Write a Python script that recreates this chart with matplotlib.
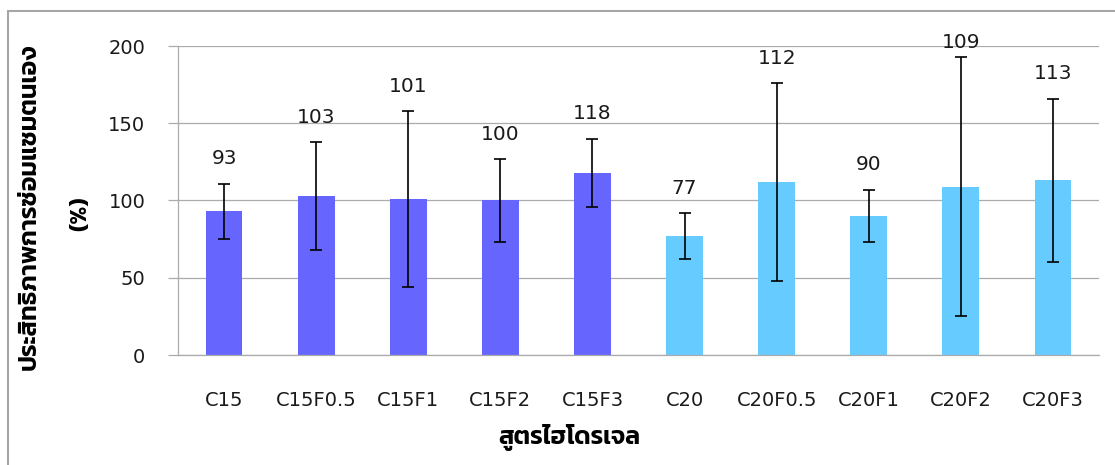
import matplotlib
matplotlib.use('Agg')
import matplotlib.pyplot as plt
from matplotlib.patches import Rectangle

categories = ['C15', 'C15F0.5', 'C15F1', 'C15F2', 'C15F3',
              'C20', 'C20F0.5', 'C20F1', 'C20F2', 'C20F3']
values = [93, 103, 101, 100, 118, 77, 112, 90, 109, 113]
errors = [18, 35, 57, 27, 22, 15, 64, 17, 84, 53]
bar_colors = ['#6666FF'] * 5 + ['#66CCFF'] * 5
yticks = [0, 50, 100, 150, 200]

thai_font = ['Kanit', 'Noto Sans Thai', 'DejaVu Sans']
grid_color = '#ABABAB'

plt.rcParams['font.family'] = ['DejaVu Sans']

fig = plt.figure(figsize=(11.15, 4.65), dpi=100)
ax = fig.add_axes([178 / 1115, 1 - 355 / 465, (1099 - 178) / 1115, (355 - 46) / 465])

x = range(len(categories))
ax.bar(x, values, width=0.4, color=bar_colors, zorder=2)
ax.errorbar(x, values, yerr=errors, fmt='none', ecolor='black',
            elinewidth=1.2, capsize=4.5, capthick=1.2, zorder=3)

# data labels above the error bars, kept inside the plot
for xi, v, e in zip(x, values, errors):
    ax.text(xi, min(v + e + 16, 202), str(v), ha='center', va='center',
            fontsize=14.5, color='#1a1a1a', zorder=4)

ax.set_xlim(-0.5, len(categories) - 0.5)
ax.set_ylim(0, 200)
ax.set_yticks(yticks)
ax.set_xticks(list(x))
ax.set_xticklabels(categories)
ax.tick_params(axis='x', length=0, pad=26, labelsize=14, labelcolor='#1a1a1a')
ax.tick_params(axis='y', length=7.5, width=0.9, color=grid_color, pad=16,
               labelsize=14, labelcolor='#1a1a1a')

ax.grid(axis='y', color=grid_color, linewidth=0.9, zorder=0)
ax.set_axisbelow(True)
for side in ['top', 'right']:
    ax.spines[side].set_visible(False)
for side in ['left', 'bottom']:
    ax.spines[side].set_color(grid_color)
    ax.spines[side].set_linewidth(0.9)

# axis titles
fig.text(30 / 1115, 1 - 207 / 465, 'ประสิทธิภาพการซ่อมแซมตนเอง', rotation=90,
         ha='center', va='center', fontsize=18, fontweight='semibold', family=thai_font)
fig.text(80 / 1115, 1 - 214 / 465, '(%)', rotation=90,
         ha='center', va='center', fontsize=17, fontweight='semibold', family=thai_font)
fig.text((497 + 641) / 2 / 1115, 1 - 437 / 465, 'สูตรไฮโดรเจล',
         ha='center', va='center', fontsize=18, fontweight='semibold', family=thai_font)

# outer chart frame (only the left and top edges fall inside the picture)
fig.patches.append(Rectangle((7.5 / 1115, -0.1), 1.2, 1 - 11 / 465 + 0.1,
                             transform=fig.transFigure, fill=False,
                             edgecolor='#A6A6A6', linewidth=1.5))

fig.savefig('out.png', dpi=100)
